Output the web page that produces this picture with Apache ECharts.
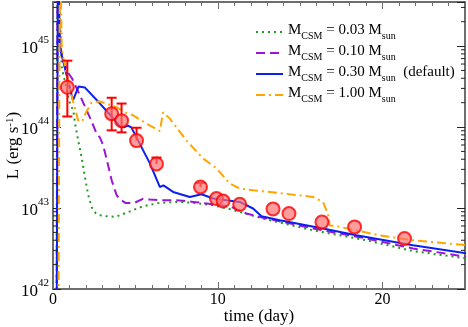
<!DOCTYPE html>
<html>
<head>
<meta charset="utf-8">
<script src="https://cdn.jsdelivr.net/npm/echarts@6/dist/echarts.min.js"></script>
<style>
html, body { margin: 0; padding: 0; background: #fff; }
#chart { width: 468px; height: 327px; }
</style>
</head>
<body>
<div id="chart"></div>
<script>
// model light curves, [time (day), L (erg/s)]
const model003 = [
    [0.2, 1e40], [0.27, 2e46], [0.53, 5.5e44], [0.91, 2.45e44], [1.03, 1.95e44], [1.23, 1.6e44],
    [1.33, 1.14e44], [1.53, 6.8e43], [1.74, 4.2e43], [1.94, 2.4e43], [2.14, 1.44e43],
    [2.35, 1.02e43], [2.6, 8.6e42], [2.85, 8.15e42], [3.27, 7.9e42], [3.82, 7.8e42],
    [4.67, 9.1e42], [5.45, 1.05e43], [6.48, 1.16e43], [7.7, 1.19e43], [8.48, 1.16e43],
    [9.72, 1.08e43], [10.73, 9.7e42], [12.75, 7.4e42], [15.78, 5.3e42], [19.01, 4.0e42],
    [21.84, 2.94e42], [25.07, 2.39e42]
];
const model010 = [
    [0.2, 1e40], [0.28, 2e46], [0.42, 1e45], [0.67, 6.3e44], [0.91, 4.7e44], [1.15, 4.0e44],
    [1.64, 2.45e44], [2.24, 1.31e44], [2.65, 8.3e43], [2.85, 7.4e43], [3.05, 5.9e43],
    [3.27, 3.9e43], [3.56, 2.2e43], [3.86, 1.44e43], [4.06, 1.28e43], [4.42, 1.15e43],
    [4.91, 1.15e43], [5.45, 1.3e43], [5.88, 1.27e43], [6.48, 1.25e43], [7.5, 1.25e43],
    [8.5, 1.19e43], [9.32, 1.14e43], [10.12, 1.08e43], [10.73, 1.05e43], [11.74, 8.55e42],
    [12.75, 7.6e42], [15.78, 5.6e42], [19.01, 4.2e42], [21.84, 3.17e42], [25.07, 2.5e42]
];
const model030 = [
    [0.2, 1e40], [0.3, 2e46], [0.42, 9.5e44], [0.61, 6.6e44], [0.91, 3.75e44], [1.21, 2.14e44],
    [1.55, 3.16e44], [1.94, 3.07e44], [2.85, 1.95e44], [3.45, 1.43e44], [4.06, 1.02e44],
    [4.3, 9.9e43], [4.55, 1.04e44], [4.75, 9.9e43], [5.07, 7.45e43], [5.47, 5.15e43],
    [5.88, 3.56e43], [6.48, 1.82e43], [6.7, 1.9e43], [7.29, 1.58e43], [8.3, 1.37e43],
    [9.01, 1.48e43], [9.72, 1.31e43], [11.33, 1.19e43], [12.14, 9.86e42], [12.65, 7.9e42],
    [13.76, 7.08e42], [16.38, 5.6e42], [18.4, 4.6e42], [21.84, 3.48e42], [25.07, 2.76e42]
];
const model100 = [
    [0.3, 1e40], [0.42, 2e46], [0.53, 1.01e45], [0.62, 7.2e44], [0.79, 5e44], [1.03, 3e44],
    [1.23, 2.03e44], [1.53, 1.2e44], [1.76, 1.16e44], [2.0, 1.51e44], [2.35, 2.03e44],
    [2.85, 2.07e44], [3.86, 1.76e44], [4.47, 1.48e44], [4.87, 1.39e44], [5.68, 1.1e44],
    [6.48, 8.9e43], [6.68, 1.52e44], [7.09, 1.27e44], [8.1, 6.8e43], [9.1, 4.1e43],
    [9.92, 3.09e43], [10.73, 2.0e43], [11.33, 1.74e43], [12.14, 1.66e43], [13.76, 1.53e43],
    [15.78, 1.37e43], [16.38, 1.19e43], [16.68, 8.55e42], [16.79, 6.1e42], [17.19, 5.97e42],
    [19.82, 4.6e42], [21.84, 4.0e42], [25.07, 3.48e42]
];

// observed points
const obsTime = [0.87, 3.56, 4.16, 5.07, 6.28, 8.95, 9.92, 10.32, 11.33, 13.35, 14.32, 16.32, 18.3, 21.33];
const obsLum = [3.1e44, 1.46e44, 1.2e44, 6.8e43, 3.5e43, 1.82e43, 1.31e43, 1.22e43, 1.11e43, 9.75e42, 8.55e42, 6.7e42, 5.85e42, 4.2e42];
const obsErrLow = [1.35e44, 9.1e43, 8.6e43, 6.8e43, 3.5e43, 1.82e43];
const obsErrHigh = [6.6e44, 2.3e44, 1.95e44, 9.8e43, 4.2e43, 2.04e43];

const decades = [42, 43, 44, 45];
const minorSteps = [2, 3, 4, 5, 6, 7, 8, 9];

const Y_MIN = 1e42, Y_MAX = 3.5e45, X_MAX = 25;
const SERIF = 'Liberation Serif';
const FRAME = '#6e6e6e';

const minorTickValues = [];
decades.forEach(d => minorSteps.forEach(m => {
    const v = m * Math.pow(10, d);
    if (v < Y_MAX) minorTickValues.push([v]);
}));

const errData = obsErrLow.map((lo, i) => [obsTime[i], lo, obsErrHigh[i]]);
const obsData = obsTime.map((t, i) => [t, obsLum[i]]);

const chart = echarts.init(document.getElementById('chart'));

function lineSeries(name, data, color, type) {
    return {
        name: name,
        type: 'line',
        data: data,
        showSymbol: false,
        symbol: 'none',
        clip: true,
        lineStyle: { color: color, width: 2, type: type },
        itemStyle: { color: color },
        z: 3,
        animation: false
    };
}

const legendNames = ['0.03', '0.10', '0.30', '1.00'];

const option = {
    animation: false,
    grid: { left: 53, right: 3, top: 2, bottom: 38, containLabel: false, outerBoundsMode: 'none' },
    legend: {
        data: legendNames,
        orient: 'vertical',
        left: 255,
        top: 23,
        padding: 0,
        itemWidth: 27,
        itemHeight: 10,
        itemGap: 3,
        itemStyle: { color: 'rgba(0,0,0,0)', borderWidth: 0, opacity: 0 },
        formatter: n => '{m|M}{sub|CSM}{m| = ' + n + ' M}{sub|sun}' + (n === '0.30' ? '{m|  (default)}' : ''),
        textStyle: {
            fontFamily: SERIF,
            color: '#000',
            rich: {
                m: { fontFamily: SERIF, fontSize: 15, color: '#000', verticalAlign: 'top', padding: [0, 0, 3, 0] },
                sub: { fontFamily: SERIF, fontSize: 10, color: '#000', verticalAlign: 'bottom' }
            }
        }
    },
    xAxis: [{
        type: 'value',
        min: 0,
        max: X_MAX,
        interval: 10,
        position: 'bottom',
        name: 'time (day)',
        nameLocation: 'middle',
        nameGap: 19,
        nameMoveOverlap: false,
        nameTextStyle: { fontFamily: SERIF, fontSize: 17, color: '#000' },
        axisLine: { lineStyle: { color: FRAME, width: 2 } },
        axisTick: { inside: true, length: 7, lineStyle: { color: FRAME } },
        minorTick: { show: true, splitNumber: 10, length: 4, lineStyle: { color: FRAME } },
        axisLabel: {
            fontFamily: SERIF, fontSize: 16, color: '#000', margin: 3,
            formatter: v => (v % 10 === 0 ? String(v) : '')
        },
        splitLine: { show: false }
    }, {
        type: 'value',
        min: 0,
        max: X_MAX,
        interval: 10,
        position: 'top',
        axisLine: { lineStyle: { color: FRAME, width: 2 } },
        axisTick: { inside: true, length: 7, lineStyle: { color: FRAME } },
        minorTick: { show: true, splitNumber: 10, length: 4, lineStyle: { color: FRAME } },
        axisLabel: { show: false },
        splitLine: { show: false }
    }],
    yAxis: [{
        type: 'log',
        logBase: 10,
        min: Y_MIN,
        max: Y_MAX,
        position: 'left',
        name: 'L (erg s{sup|-1})',
        nameLocation: 'middle',
        nameGap: 31,
        nameMoveOverlap: false,
        nameRotate: 90,
        nameTextStyle: {
            fontFamily: SERIF, fontSize: 17, color: '#000',
            rich: {
                sup: { fontFamily: SERIF, fontSize: 11, color: '#000', verticalAlign: 'top' }
            }
        },
        axisLine: { onZero: false, lineStyle: { color: FRAME, width: 2 } },
        axisTick: { inside: true, length: 8, lineStyle: { color: '#222' } },
        axisLabel: {
            margin: 4,
            formatter: v => {
                const e = Math.log10(v);
                const r = Math.round(e);
                if (Math.abs(e - r) > 1e-6) return '';
                return '{b|10}{s|' + r + '}';
            },
            rich: {
                b: { fontFamily: SERIF, fontSize: 17, color: '#000', verticalAlign: 'bottom', padding: [5, 0, 0, 0] },
                s: { fontFamily: SERIF, fontSize: 11, color: '#000', verticalAlign: 'top' }
            }
        },
        splitLine: { show: false }
    }, {
        type: 'log',
        logBase: 10,
        min: Y_MIN,
        max: Y_MAX,
        position: 'right',
        axisLine: { onZero: false, lineStyle: { color: FRAME, width: 2 } },
        axisTick: { inside: true, length: 8, lineStyle: { color: '#222' } },
        axisLabel: { show: false },
        splitLine: { show: false }
    }],
    series: [
        lineSeries('0.03', model003, '#1f9a1f', [2, 4]),
        lineSeries('0.10', model010, '#9a16d6', [9, 5]),
        lineSeries('0.30', model030, '#0a1ff0', 'solid'),
        lineSeries('1.00', model100, '#ffa500', [9, 4, 2, 4]),
        {
            // minor ticks of the log axes (2..9 per decade)
            type: 'custom',
            data: minorTickValues,
            silent: true,
            z: 5,
            encode: { y: 0 },
            renderItem: (params, api) => {
                const v = api.value(0);
                const pl = api.coord([0, v]);
                const pr = api.coord([X_MAX, v]);
                const style = { stroke: '#222', lineWidth: 1 };
                return {
                    type: 'group',
                    children: [
                        { type: 'line', shape: { x1: pl[0], y1: pl[1], x2: pl[0] + 4, y2: pl[1] }, style: style },
                        { type: 'line', shape: { x1: pr[0], y1: pr[1], x2: pr[0] - 4, y2: pr[1] }, style: style }
                    ]
                };
            }
        },
        {
            type: 'custom',
            data: errData,
            z: 6,
            encode: { x: 0, y: [1, 2] },
            renderItem: (params, api) => {
                const t = api.value(0);
                const lo = api.coord([t, api.value(1)]);
                const hi = api.coord([t, api.value(2)]);
                const style = { stroke: '#ff0000', lineWidth: 2 };
                const kids = [
                    { type: 'line', shape: { x1: hi[0], y1: hi[1], x2: lo[0], y2: lo[1] }, style: style },
                    { type: 'line', shape: { x1: hi[0] - 5, y1: hi[1], x2: hi[0] + 5, y2: hi[1] }, style: style }
                ];
                if (api.value(1) < obsLum[params.dataIndex]) {
                    kids.push({ type: 'line', shape: { x1: lo[0] - 5, y1: lo[1], x2: lo[0] + 5, y2: lo[1] }, style: style });
                }
                return { type: 'group', children: kids };
            }
        },
        {
            type: 'scatter',
            data: obsData,
            symbol: 'circle',
            symbolSize: 13,
            z: 7,
            itemStyle: { color: 'rgba(255, 110, 110, 0.85)', borderColor: '#ff0000', borderWidth: 2 }
        }
    ]
};

chart.setOption(option);
</script>
</body>
</html>
